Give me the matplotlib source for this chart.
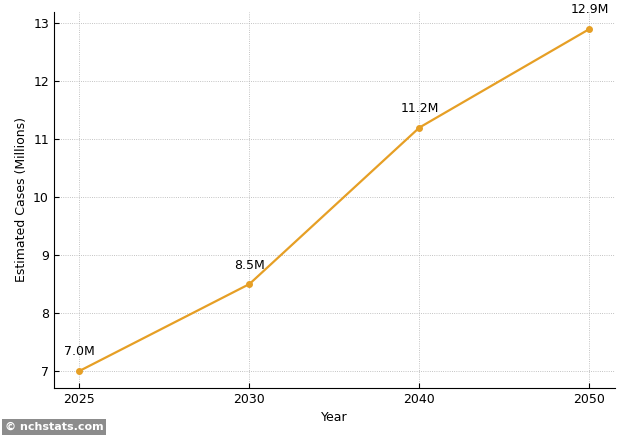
import matplotlib
matplotlib.use("Agg")
import matplotlib.pyplot as plt

years = ["2025", "2030", "2040", "2050"]
cases = [7.0, 8.5, 11.2, 12.9]
labels = ["7.0M", "8.5M", "11.2M", "12.9M"]

color = "#e69f25"

fig = plt.figure(figsize=(6.34, 4.4), dpi=100)
ax = fig.add_axes([0.085, 0.118, 0.885, 0.855])

x = list(range(len(years)))
ax.plot(x, cases, color=color, lw=1.6, marker="o", markersize=4)
for xi, yi, lab in zip(x, cases, labels):
    ax.annotate(lab, (xi, yi), xytext=(0, 9), textcoords="offset points",
                ha="center", va="bottom", fontsize=9)

ax.set_xticks(x)
ax.set_xticklabels(years)
ax.set_xlabel("Year", fontsize=9)
ax.set_ylabel("Estimated Cases (Millions)", fontsize=9)
ax.tick_params(direction="in", labelsize=9)
ax.grid(True, ls=":", lw=0.6, color="#b0b0b0")
for s in ("top", "right"):
    ax.spines[s].set_visible(False)

fig.text(0.008, 0.018, "© nchstats.com", color="white", fontsize=8,
         fontweight="bold", ha="left", va="bottom",
         bbox=dict(facecolor="#8c8c8c", edgecolor="none", pad=2))

fig.savefig("out.png", dpi=100)
